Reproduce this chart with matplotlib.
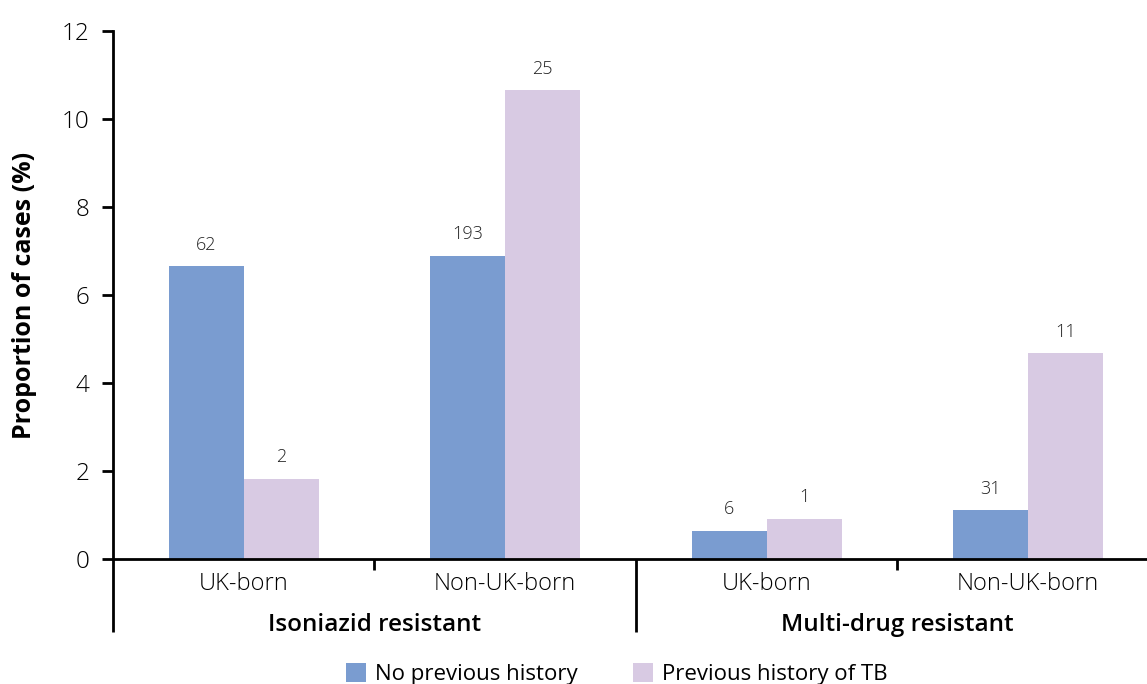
"""
Drug resistance among TB cases by place of birth and previous history
"""
from matplotlib import pyplot as plt
from matplotlib import transforms
import numpy as np

GROUPS = ['Isoniazid resistant', 'Multi-drug resistant']
CATEGORIES = ['UK-born', 'Non-UK-born', 'UK-born', 'Non-UK-born']
SERIES = ['No previous history', 'Previous history of TB']
NO_HISTORY = [6.65, 6.89, 0.64, 1.11]
PREV_HISTORY = [1.82, 10.66, 0.91, 4.68]
NO_HISTORY_N = [62, 193, 6, 31]
PREV_HISTORY_N = [2, 25, 1, 11]
COLOURS = {'No previous history': '#7A9CD0', 'Previous history of TB': '#D8CAE3'}

plt.rcParams['font.family'] = ['Open Sans', 'DejaVu Sans']

fig = plt.figure(figsize=(11.47, 6.84), dpi=100)
ax = fig.add_axes([0.0985, 0.1827, 0.9015, 0.7719])

x = np.arange(len(CATEGORIES))
width = 0.287
bars1 = ax.bar(x - width / 2, NO_HISTORY, width, color=COLOURS[SERIES[0]], label=SERIES[0])
bars2 = ax.bar(x + width / 2, PREV_HISTORY, width, color=COLOURS[SERIES[1]], label=SERIES[1])
ax.bar_label(bars1, labels=[str(n) for n in NO_HISTORY_N], padding=9, fontsize=13,
             color='#222222', fontweight='light')
ax.bar_label(bars2, labels=[str(n) for n in PREV_HISTORY_N], padding=9, fontsize=13,
             color='#222222', fontweight='light')

ax.set_ylim(0, 12)
ax.set_xlim(-0.5, 3.455)
ax.set_yticks(range(0, 13, 2))
ax.set_yticklabels([str(v) for v in range(0, 13, 2)], fontsize=17.5, fontweight='light')
ax.tick_params(axis='y', length=8, width=2, pad=9)

ax.set_xticks(x)
ax.set_xticklabels(CATEGORIES, fontsize=17, fontweight='light')
ax.tick_params(axis='x', length=0, pad=9)
ax.set_xticks([0.5, 2.5], minor=True)
ax.tick_params(axis='x', which='minor', length=8, width=2)

ax.set_ylabel('Proportion of cases (%)', fontsize=18, fontweight='bold', labelpad=18)

for side in ['top', 'right']:
    ax.spines[side].set_visible(False)
for side in ['left', 'bottom']:
    ax.spines[side].set_linewidth(2)

# group separators below the x axis
trans = transforms.blended_transform_factory(ax.transData, ax.transAxes)
for xpos in [-0.5, 1.5]:
    ax.plot([xpos, xpos], [0, -0.138], transform=trans, color='black',
            linewidth=2, clip_on=False, solid_capstyle='butt')
for gi, group in enumerate(GROUPS):
    ax.text(0.5 + 2 * gi, -0.125, group, transform=trans, ha='center', va='center',
            fontsize=17.5, fontweight='semibold')

fig.legend(loc='center', bbox_to_anchor=(0.538, 0.014), ncol=2, frameon=False,
           fontsize=16, handlelength=0.9, handleheight=0.9, handletextpad=0.4,
           columnspacing=2.5)

plt.savefig('out.png', dpi=100)
